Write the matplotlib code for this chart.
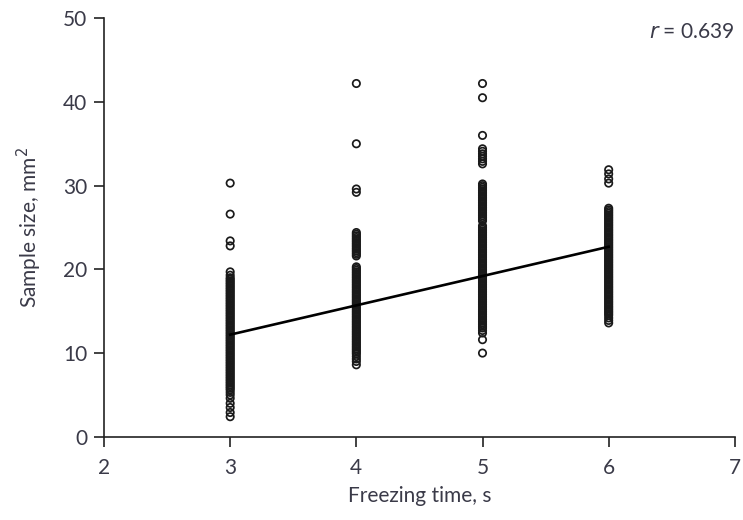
import matplotlib
matplotlib.use("Agg")
import matplotlib.pyplot as plt
import numpy as np

plt.rcParams['font.family'] = ['Lato', 'DejaVu Sans']

# sample sizes (mm^2)
col3 = [30.3, 26.6, 23.4, 22.8, 19.7, 19.3, 19.0, 18.8, 18.6, 18.4, 18.2, 18.0,
        17.8, 17.6, 17.4, 17.2, 17.0, 16.8, 16.6, 16.4, 16.2, 16.0, 15.8, 15.6,
        15.4, 15.2, 15.0, 14.8, 14.6, 14.4, 14.2, 14.0, 13.8, 13.6, 13.4, 13.2,
        13.0, 12.8, 12.6, 12.4, 12.2, 12.0, 11.8, 11.6, 11.4, 11.2, 11.0, 10.8,
        10.6, 10.4, 10.2, 10.0, 9.8, 9.6, 9.4, 9.2, 9.0, 8.8, 8.6, 8.4, 8.2,
        8.0, 7.8, 7.6, 7.4, 7.2, 7.0, 6.8, 6.6, 6.4, 6.2, 6.0, 5.8, 5.6, 5.3,
        5.0, 4.6, 4.0, 3.5, 2.9, 2.4]
col4 = [42.2, 35.0, 29.6, 29.2, 24.4, 24.2, 24.0, 23.8, 23.6, 23.4, 23.2, 23.0,
        22.8, 22.6, 22.4, 22.2, 22.0, 21.8, 21.6, 20.3, 20.1, 19.9, 19.7, 19.5,
        19.3, 19.1, 18.9, 18.7, 18.5, 18.3, 18.1, 17.9, 17.7, 17.5, 17.3, 17.1,
        16.9, 16.7, 16.5, 16.3, 16.1, 15.9, 15.7, 15.5, 15.3, 15.1, 14.9, 14.7,
        14.5, 14.3, 14.1, 13.9, 13.7, 13.5, 13.3, 13.1, 12.9, 12.7, 12.5, 12.3,
        12.1, 11.9, 11.7, 11.5, 11.3, 11.1, 10.9, 10.7, 10.5, 10.3, 10.1, 9.9,
        9.6, 9.3, 9.0, 8.6]
col5 = [42.2, 40.5, 36.0, 34.4, 34.1, 33.8, 33.5, 33.2, 32.9, 32.6, 30.2, 30.0,
        29.8, 29.6, 29.4, 29.2, 29.0, 28.8, 28.6, 28.4, 28.2, 28.0, 27.8, 27.6,
        27.4, 27.2, 27.0, 26.8, 26.6, 26.4, 26.2, 26.0, 25.8, 25.2, 25.0, 24.8,
        24.6, 24.4, 24.2, 24.0, 23.8, 23.6, 23.4, 23.2, 23.0, 22.8, 22.6, 22.4,
        22.2, 22.0, 21.8, 21.6, 21.4, 21.2, 21.0, 20.8, 20.6, 20.4, 20.2, 20.0,
        19.8, 19.6, 19.4, 19.2, 19.0, 18.8, 18.6, 18.4, 18.2, 18.0, 17.8, 17.6,
        17.4, 17.2, 17.0, 16.8, 16.6, 16.4, 16.2, 16.0, 15.8, 15.6, 15.4, 15.2,
        15.0, 14.8, 14.6, 14.4, 14.2, 14.0, 13.8, 13.6, 13.4, 13.2, 13.0, 12.7,
        12.4, 11.6, 10.0]
col6 = [31.9, 31.4, 30.8, 30.3, 27.3, 27.1, 26.9, 26.7, 26.5, 26.3, 26.1, 25.9,
        25.7, 25.5, 25.3, 25.1, 24.9, 24.7, 24.5, 24.3, 24.1, 23.9, 23.7, 23.5,
        23.3, 23.1, 22.9, 22.7, 22.5, 22.3, 22.1, 21.9, 21.7, 21.5, 21.3, 21.1,
        20.9, 20.7, 20.5, 20.3, 20.1, 19.9, 19.7, 19.5, 19.3, 19.1, 18.9, 18.7,
        18.5, 18.3, 18.1, 17.9, 17.7, 17.5, 17.3, 17.1, 16.9, 16.7, 16.5, 16.3,
        16.1, 15.9, 15.7, 15.5, 15.3, 15.1, 14.9, 14.7, 14.5, 14.2, 13.9, 13.6]

times = [3, 4, 5, 6]
columns = [col3, col4, col5, col6]

# regression line
fit_intercept = 1.7
fit_slope = 3.5
r_value = 0.639

txt = '#3a3a48'

fig = plt.figure(figsize=(7.43, 5.2), dpi=100)
ax = fig.add_axes([0.14, 0.16, 0.849, 0.805])

for t, vals in zip(times, columns):
    ax.scatter(np.full(len(vals), t), vals, s=28, facecolors='none',
               edgecolors='#1a1a1a', linewidths=1.25, zorder=2)

xs = np.array([times[0], times[-1]])
ax.plot(xs, fit_intercept + fit_slope * xs, color='black', lw=1.9, zorder=3)

ax.set_xlim(2, 7)
ax.set_ylim(0, 50)
ax.set_xticks(range(2, 8))
ax.set_yticks(range(0, 51, 10))
for s in ['top', 'right']:
    ax.spines[s].set_visible(False)
for s in ['left', 'bottom']:
    ax.spines[s].set_linewidth(1.2)
    ax.spines[s].set_color('#222222')
ax.tick_params(direction='out', length=7, width=1.2, color='#222222',
               labelsize=15, labelcolor=txt)
ax.tick_params(axis='x', pad=8)
ax.tick_params(axis='y', pad=5)

ax.set_xlabel('Freezing time, s', fontsize=15, color=txt, labelpad=6)
ax.set_ylabel('Sample size, mm$^2$', fontsize=15, color=txt, labelpad=14)

ax.text(1.0, 0.99, '$\\it{r}$ = %.3f' % r_value, transform=ax.transAxes,
        ha='right', va='top', fontsize=15, color=txt)

fig.savefig('out.png', dpi=100)
